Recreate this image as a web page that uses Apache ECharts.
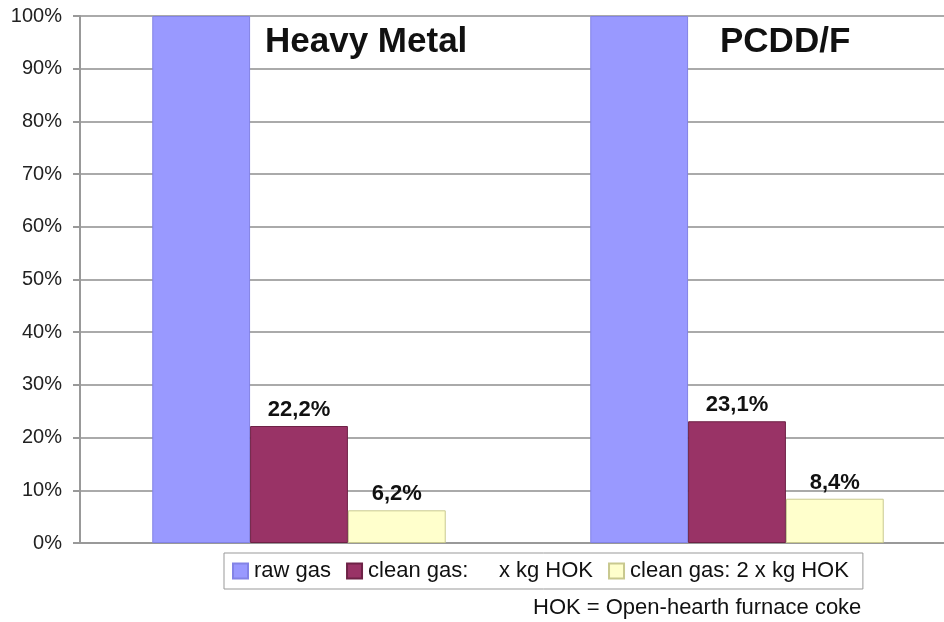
<!DOCTYPE html>
<html>
<head>
<meta charset="utf-8">
<script src="https://cdn.jsdelivr.net/npm/echarts@6/dist/echarts.min.js"></script>
<style>
html, body { margin: 0; padding: 0; background: #fff; }
#chart { width: 944px; height: 622px; }
</style>
</head>
<body>
<div id="chart"></div>
<script>
// data
var categories = ['Heavy Metal', 'PCDD/F'];
var seriesNames = ['raw gas', 'clean gas:     x kg HOK', 'clean gas: 2 x kg HOK'];
var rawGas = [100, 100];
var cleanGasX = [22.2, 23.1];
var cleanGas2X = [6.2, 8.4];
var footnote = 'HOK = Open-hearth furnace coke';

var FONT = '"Liberation Sans", Arial, sans-serif';

function pctLabel(p) {
    // comma as decimal separator, like the original
    return p.value.toFixed(1).replace('.', ',') + '%';
}

var valueLabel = {
    show: true,
    position: 'top',
    distance: 5,
    formatter: pctLabel,
    fontFamily: FONT,
    fontSize: 22,
    fontWeight: 'bold',
    color: '#111'
};

var chart = echarts.init(document.getElementById('chart'));

var option = {
    backgroundColor: '#fff',
    animation: false,
    // plot runs a little past the right edge of the picture
    grid: { left: 80, width: 876, top: 16, bottom: 79, outerBoundsMode: 'none', containLabel: false },
    legend: {
        data: seriesNames,
        left: 224,
        top: 553,
        icon: 'rect',
        itemWidth: 15,
        itemHeight: 15,
        itemGap: 15,
        padding: [7, 14, 7, 8],
        borderColor: '#999',
        borderWidth: 1,
        textStyle: { fontFamily: FONT, fontSize: 22, color: '#111', padding: [0, 0, 0, 1] }
    },
    xAxis: {
        type: 'category',
        data: categories,
        axisLine: { show: true, lineStyle: { color: '#999', width: 2 } },
        axisTick: { show: false },
        axisLabel: { show: false }
    },
    yAxis: {
        type: 'value',
        min: 0,
        max: 100,
        interval: 10,
        axisLine: { show: true, lineStyle: { color: '#999', width: 2 } },
        axisTick: { show: true, length: 7, lineStyle: { color: '#999', width: 2 } },
        axisLabel: {
            formatter: '{value}%',
            fontFamily: FONT,
            fontSize: 20,
            color: '#222',
            margin: 18
        },
        splitLine: { lineStyle: { color: '#aaa', width: 2 } }
    },
    series: [
        {
            name: seriesNames[0],
            type: 'bar',
            data: rawGas,
            barGap: '0%',
            barCategoryGap: '33%',
            itemStyle: { color: '#9999FF', borderColor: '#8383e6', borderWidth: 1 }
        },
        {
            name: seriesNames[1],
            type: 'bar',
            data: cleanGasX,
            label: valueLabel,
            itemStyle: { color: '#993366', borderColor: '#6e2246', borderWidth: 1 }
        },
        {
            name: seriesNames[2],
            type: 'bar',
            data: cleanGas2X,
            label: valueLabel,
            itemStyle: { color: '#FFFFCC', borderColor: '#c9c98f', borderWidth: 1 }
        }
    ],
    graphic: [
        {
            type: 'text', left: 265, top: 25,
            style: { text: categories[0], font: 'bold 35px ' + FONT, fill: '#111' }
        },
        {
            type: 'text', left: 720, top: 25,
            style: { text: categories[1], font: 'bold 35px ' + FONT, fill: '#111' }
        },
        {
            type: 'text', left: 533, top: 597,
            style: { text: footnote, font: '22px ' + FONT, fill: '#111' }
        }
    ]
};

chart.setOption(option);
</script>
</body>
</html>
